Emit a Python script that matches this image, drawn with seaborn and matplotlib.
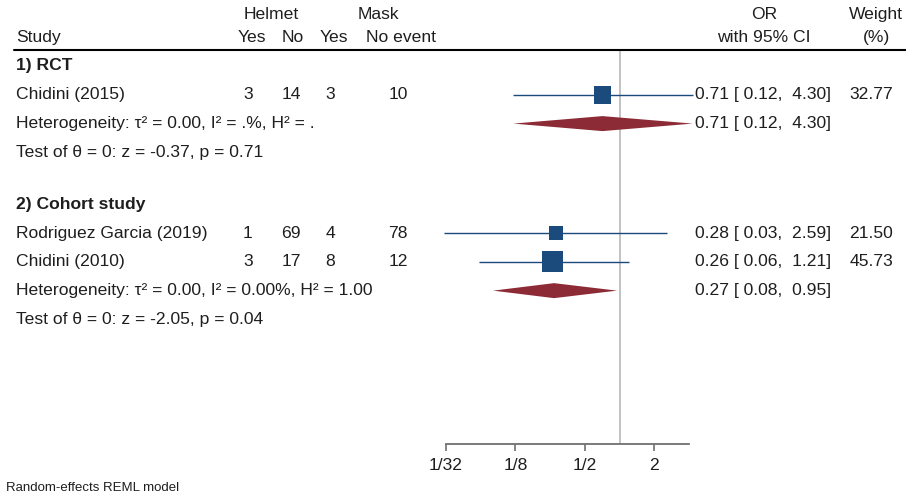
import matplotlib
matplotlib.use("Agg")
import matplotlib.pyplot as plt
import matplotlib.transforms as mtransforms
from matplotlib.lines import Line2D
import numpy as np
import pandas as pd
import seaborn as sns

# ---- data -------------------------------------------------------------
groups = ["1) RCT", "2) Cohort study"]
studies = ["Chidini (2015)", "Rodriguez Garcia (2019)", "Chidini (2010)"]
study_group = [0, 1, 1]
helmet_yes = [3, 1, 3]
helmet_no = [14, 69, 17]
mask_yes = [3, 4, 8]
mask_no = [10, 78, 12]
odds_ratio = [0.71, 0.28, 0.26]
ci_low = [0.12, 0.03, 0.06]
ci_high = [4.30, 2.59, 1.21]
weight = [32.77, 21.50, 45.73]

pooled_or = [0.71, 0.27]
pooled_low = [0.12, 0.08]
pooled_high = [4.30, 0.95]
heterogeneity = ["Heterogeneity: \u03c4\u00b2 = 0.00, I\u00b2 = .%, H\u00b2 = .",
                 "Heterogeneity: \u03c4\u00b2 = 0.00, I\u00b2 = 0.00%, H\u00b2 = 1.00"]
effect_test = ["Test of \u03b8 = 0: z = -0.37, p = 0.71",
               "Test of \u03b8 = 0: z = -2.05, p = 0.04"]

tick_values = [1 / 32, 1 / 8, 1 / 2, 2]
tick_labels = ["1/32", "1/8", "1/2", "2"]
x_limits = (1 / 32, 4)

# ---- style ------------------------------------------------------------
sns.set_theme(style="white")
plt.rcParams["font.family"] = ["Liberation Sans", "DejaVu Sans"]
TXT = "#1e1e1e"
NAVY = "#1b4a7c"
WINE = "#8c2a36"
FS = 12.6

W, H = 906, 497
fig = plt.figure(figsize=(W / 100, H / 100), dpi=100)
fig.patch.set_facecolor("white")

# forest panel: OR axis from 1/32 to 4, rows from the header rule to the axis line
top_px, bot_px = 50, 444
left_px, right_px = 446, 689
ax = fig.add_axes([left_px / W, 1 - bot_px / H,
                   (right_px - left_px) / W, (bot_px - top_px) / H])
row0_px, row_step = 66, 28.8
ax.set_ylim((bot_px - row0_px) / row_step, (top_px - row0_px) / row_step)
ax.set_xscale("log", base=2)
ax.set_xlim(*x_limits)
ax.set_facecolor("none")

# row layout: group title, studies, pooled diamond, test line, then a gap
r = 0.0
study_rows, pooled_rows, title_rows, test_rows = [], [], [], []
for g in range(len(groups)):
    title_rows.append(r)
    r += 1
    for i, sg in enumerate(study_group):
        if sg == g:
            study_rows.append(r)
            r += 1
    pooled_rows.append(r)
    r += 1
    test_rows.append(r)
    r += 1.8

df = pd.DataFrame({"study": studies, "or": odds_ratio, "lo": ci_low,
                   "hi": ci_high, "weight": weight, "row": study_rows})

# confidence intervals
for _, s in df.iterrows():
    ax.plot([s["lo"], s["hi"]], [s["row"], s["row"]], color=NAVY, lw=1.0,
            clip_on=False, zorder=2, solid_capstyle="butt")

# study squares, area proportional to weight
size_map = {w: 5.0 * w for w in weight}
sns.scatterplot(data=df, x="or", y="row", size="weight", sizes=size_map,
                marker="s", color=NAVY, linewidth=0, legend=False, ax=ax,
                zorder=3, clip_on=False)

# pooled diamonds
half_h = 7.5 / row_step
for k in range(len(groups)):
    y = pooled_rows[k]
    ax.fill([pooled_low[k], pooled_or[k], pooled_high[k], pooled_or[k]],
            [y, y - half_h, y, y + half_h], color=WINE, lw=0, zorder=3,
            clip_on=False)

# line of no effect
ax.axvline(1, color="#bdbdbd", lw=1.3, zorder=1)

# axis styling
for side in ["top", "right", "left"]:
    ax.spines[side].set_visible(False)
ax.spines["bottom"].set_color("#6f6f6f")
ax.spines["bottom"].set_linewidth(1.3)
ax.set_xticks(tick_values)
ax.set_xticklabels(tick_labels)
ax.xaxis.set_minor_locator(matplotlib.ticker.NullLocator())
ax.tick_params(axis="x", bottom=True, length=5, width=1.2, color="#6f6f6f",
               labelsize=FS, labelcolor=TXT, pad=5)
ax.set_yticks([])
ax.set_xlabel("")
ax.set_ylabel("")

# ---- text columns -----------------------------------------------------
tr = mtransforms.blended_transform_factory(fig.transFigure, ax.transData)


def put(xpx, row, s, ha="left", **kw):
    kw.setdefault("fontsize", FS)
    kw.setdefault("color", TXT)
    ax.text(xpx / W, row, s, transform=tr, ha=ha, va="center",
            clip_on=False, **kw)


hdr1 = (15 - row0_px) / row_step
hdr2 = (38 - row0_px) / row_step
put(271, hdr1, "Helmet", ha="center")
put(378, hdr1, "Mask", ha="center")
put(764, hdr1, "OR", ha="center")
put(903, hdr1, "Weight", ha="right")
put(16, hdr2, "Study")
put(252, hdr2, "Yes", ha="center")
put(293, hdr2, "No", ha="center")
put(334, hdr2, "Yes", ha="center")
put(401, hdr2, "No event", ha="center")
put(764, hdr2, "with 95% CI", ha="center")
put(877, hdr2, "(%)", ha="center")

fig.add_artist(Line2D([14 / W, 1.0], [1 - 50 / H, 1 - 50 / H],
                      color="black", lw=1.5))

for g in range(len(groups)):
    put(16, title_rows[g], groups[g], fontweight="bold")
    put(16, pooled_rows[g], heterogeneity[g])
    put(16, test_rows[g], effect_test[g])
    put(695, pooled_rows[g],
        f"{pooled_or[g]:.2f} [{pooled_low[g]:5.2f}, {pooled_high[g]:5.2f}]")

for i, s in df.iterrows():
    y = s["row"]
    put(16, y, s["study"])
    put(248, y, str(helmet_yes[i]), ha="center")
    put(291, y, str(helmet_no[i]), ha="center")
    put(330, y, str(mask_yes[i]), ha="center")
    put(398, y, str(mask_no[i]), ha="center")
    put(695, y, f"{s['or']:.2f} [{s['lo']:5.2f}, {s['hi']:5.2f}]")
    put(893, y, f"{s['weight']:.2f}", ha="right")

fig.text(6 / W, 1 - 488 / H, "Random-effects REML model", ha="left",
         va="center", fontsize=9.5, color=TXT,
         family=["Liberation Sans Narrow", "Liberation Sans"])

fig.savefig("out.png", dpi=100, facecolor="white")
